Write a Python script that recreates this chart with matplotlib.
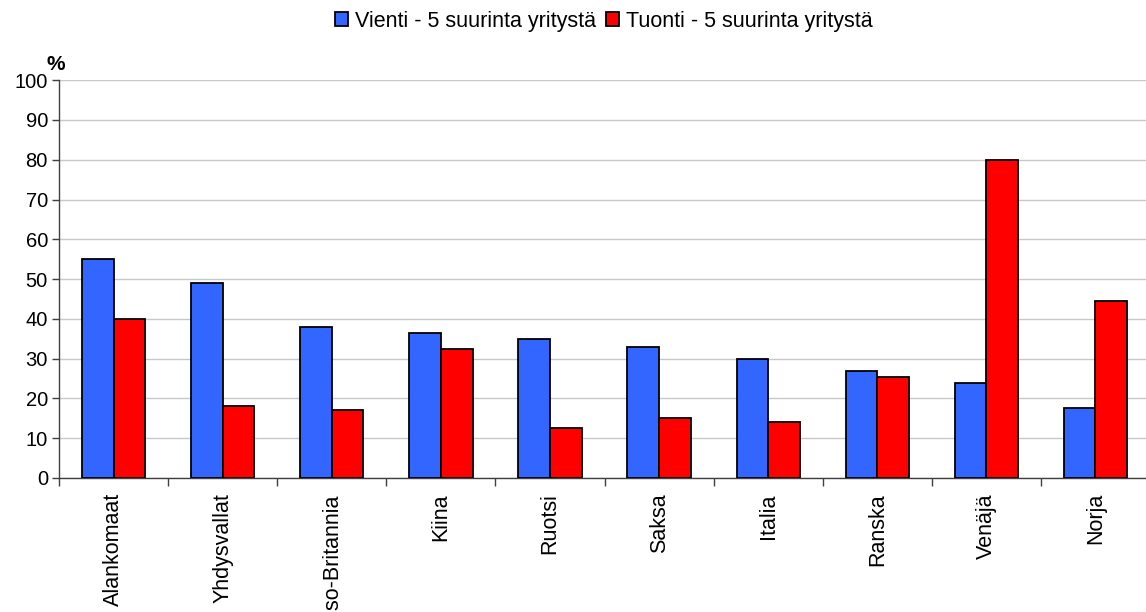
import matplotlib
matplotlib.use("Agg")
import matplotlib.pyplot as plt
import numpy as np
from matplotlib.patches import Patch

BLUE = "#3366FF"
RED = "#FF0000"
GRID = "#C8C8C8"
AXIS = "#404040"

countries = ["Alankomaat", "Yhdysvallat", "Iso-Britannia", "Kiina", "Ruotsi",
             "Saksa", "Italia", "Ranska", "Venäjä", "Norja"]
vienti = [55, 49, 38, 36.5, 35, 33, 30, 27, 24, 17.5]
tuonti = [40, 18, 17, 32.5, 12.5, 15, 14, 25.5, 80, 44.5]
series_labels = ["Vienti - 5 suurinta yritystä", "Tuonti - 5 suurinta yritystä"]
y_ticks = list(range(0, 101, 10))

plt.rcParams.update({"font.family": ["Liberation Sans", "DejaVu Sans"], "font.size": 14})

figure = plt.figure(figsize=(11.46, 6.12), dpi=100, facecolor="white")
axis = figure.add_axes([0.0515, 0.219, 0.952, 0.650])

positions = np.arange(len(countries))
width = 0.29
axis.bar(positions - width / 2, vienti, width, color=BLUE, edgecolor="black", linewidth=1.3, zorder=3)
axis.bar(positions + width / 2, tuonti, width, color=RED, edgecolor="black", linewidth=1.3, zorder=3)

axis.set_xlim(-0.5, len(countries) - 0.5)
axis.set_ylim(0, 100)
axis.set_yticks(y_ticks)
axis.tick_params(axis="y", labelsize=14.5)
axis.grid(axis="y", color=GRID, linewidth=1.0, zorder=0)
axis.set_axisbelow(True)

axis.set_xticks(positions)
axis.set_xticklabels(countries, rotation=90, va="top", ha="center", fontsize=15.5)
axis.tick_params(axis="x", length=0, pad=11)
axis.set_xticks(np.arange(len(countries) + 1) - 0.5, minor=True)
axis.tick_params(axis="x", which="minor", length=6, color=AXIS, width=1)
axis.tick_params(axis="y", length=5, color=AXIS, width=1, pad=3)

for side in ["top", "right"]:
    axis.spines[side].set_visible(False)
for side in ["left", "bottom"]:
    axis.spines[side].set_color(AXIS)
    axis.spines[side].set_linewidth(1.0)

figure.text(56 / 1146, 1 - 65 / 612, "%", ha="center", va="center", fontsize=15, weight="bold")

handles = [Patch(facecolor=BLUE, edgecolor="black", linewidth=1.3),
           Patch(facecolor=RED, edgecolor="black", linewidth=1.3)]
figure.legend(handles, series_labels, loc="upper center", bbox_to_anchor=(0.527, 1.014),
              ncol=2, frameon=False, fontsize=15.5, handlelength=0.6, handleheight=0.6,
              handletextpad=0.35, columnspacing=0.45)

figure.savefig("out.png", dpi=100, facecolor="white")
